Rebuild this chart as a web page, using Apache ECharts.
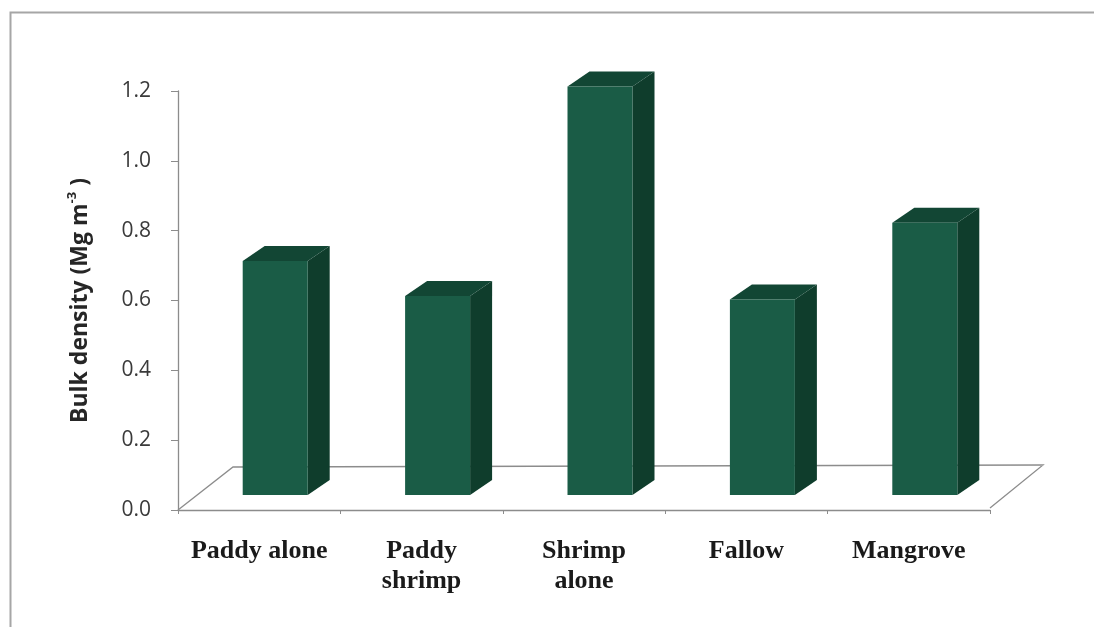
<!DOCTYPE html>
<html>
<head>
<meta charset="utf-8">
<script src="https://cdn.jsdelivr.net/npm/echarts@6/dist/echarts.min.js"></script>
<style>
  html, body { margin: 0; padding: 0; background: #ffffff; }
  #chart { width: 1094px; height: 627px; }
</style>
</head>
<body>
<div id="chart"></div>
<script>
// Land-use categories and measured soil bulk density (Mg m-3)
const categories = ['Paddy alone', 'Paddy\nshrimp', 'Shrimp\nalone', 'Fallow', 'Mangrove'];
const bulkDensity = [0.67, 0.57, 1.17, 0.56, 0.78];

// Value axis range
const yMin = 0;
const yMax = 1.2;
const yStep = 0.2;

const chart = echarts.init(document.getElementById('chart'), null, { renderer: 'canvas' });

// Column look: front face, right side and top of each box
const FRONT = '#1a5c46';
const SIDE = '#0f3d2c';
const TOP = '#124634';

// Floor of the 3D plot area (drawn behind the columns)
function renderFloor(params, api) {
  const cs = params.coordSys;
  const fx0 = cs.x, fy = cs.y + cs.height;
  const fx1 = cs.x + cs.width;
  const dx = 55, dy = 43;
  const line = { stroke: '#8c8c8c', lineWidth: 1.3, fill: null };
  return {
    type: 'group',
    children: [
      { type: 'polygon', shape: { points: [[fx0, fy], [fx0 + dx, fy - dy], [fx1 + dx - 2, fy - dy - 2], [fx1, fy - 2]] },
        style: { fill: '#ffffff' }, silent: true },
      { type: 'polyline', shape: { points: [[fx0, fy], [fx0 + dx, fy - dy], [fx1 + dx - 2, fy - dy - 2], [fx1, fy - 2]] },
        style: line, silent: true }
    ]
  };
}

// One 3D-looking column per category, height taken from the value axis
function renderColumn(params, api) {
  const i = api.value(0);
  const v = api.value(1);
  const base = api.coord([i, 0]);
  const top = api.coord([i, v]);
  const h = base[1] - top[1];
  const w = 65, dx = 22, dy = 15, lift = 15, shift = 16;
  const x0 = base[0] + shift - w / 2;
  const x1 = x0 + w;
  const yb = base[1] - lift;
  const yt = yb - h;
  return {
    type: 'group',
    children: [
      { type: 'polygon', shape: { points: [[x1, yb], [x1, yt], [x1 + dx, yt - dy], [x1 + dx, yb - dy]] },
        style: { fill: SIDE } },
      { type: 'polygon', shape: { points: [[x0, yt], [x1, yt], [x1 + dx, yt - dy], [x0 + dx, yt - dy]] },
        style: { fill: TOP } },
      { type: 'rect', shape: { x: x0, y: yt, width: w, height: h },
        style: { fill: FRONT } }
    ]
  };
}

const option = {
  backgroundColor: '#ffffff',
  animation: false,
  graphic: [
    { type: 'rect', left: 8, top: 10, shape: { width: 1120, height: 700 },
      style: { fill: null, stroke: '#a6a6a6', lineWidth: 2 }, z: -10, silent: true }
  ],
  grid: { left: 178, right: 104, top: 91, bottom: 117 },
  xAxis: {
    type: 'category',
    data: categories,
    boundaryGap: true,
    axisLine: { show: true, lineStyle: { color: '#8c8c8c', width: 1.3 } },
    axisTick: { show: true, interval: 0, length: 4, lineStyle: { color: '#8c8c8c' } },
    axisLabel: {
      interval: 0,
      margin: 26,
      fontFamily: 'Liberation Serif',
      fontWeight: 'bold',
      fontSize: 26,
      lineHeight: 30,
      color: '#1a1a1a'
    },
    z: 5
  },
  yAxis: {
    type: 'value',
    min: yMin,
    max: yMax,
    interval: yStep,
    name: '{b|Bulk density (Mg m}{s|-3}{b| )}',
    nameLocation: 'middle',
    nameRotate: 90,
    nameGap: 84,
    nameTextStyle: {
      rich: {
        b: { fontFamily: 'Open Sans', fontWeight: 'bold', fontSize: 23, color: '#262626', lineHeight: 28 },
        s: { fontFamily: 'Open Sans', fontWeight: 'bold', fontSize: 13, color: '#262626', lineHeight: 28, verticalAlign: 'top' }
      }
    },
    axisLine: { show: true, lineStyle: { color: '#8c8c8c', width: 1.3 } },
    axisTick: { show: true, length: 7, lineStyle: { color: '#8c8c8c' } },
    splitLine: { show: false },
    axisLabel: {
      margin: 27,
      fontFamily: 'Open Sans',
      fontSize: 21,
      color: '#3a3a3a',
      formatter: function (val) { return val.toFixed(1); }
    }
  },
  series: [
    {
      type: 'custom',
      renderItem: renderFloor,
      data: [[0, 0]],
      encode: { x: 0, y: 1 },
      z: 1,
      silent: true
    },
    {
      type: 'custom',
      renderItem: renderColumn,
      data: bulkDensity.map(function (v, i) { return [i, v]; }),
      encode: { x: 0, y: 1 },
      z: 2
    }
  ]
};

chart.setOption(option);
</script>
</body>
</html>
